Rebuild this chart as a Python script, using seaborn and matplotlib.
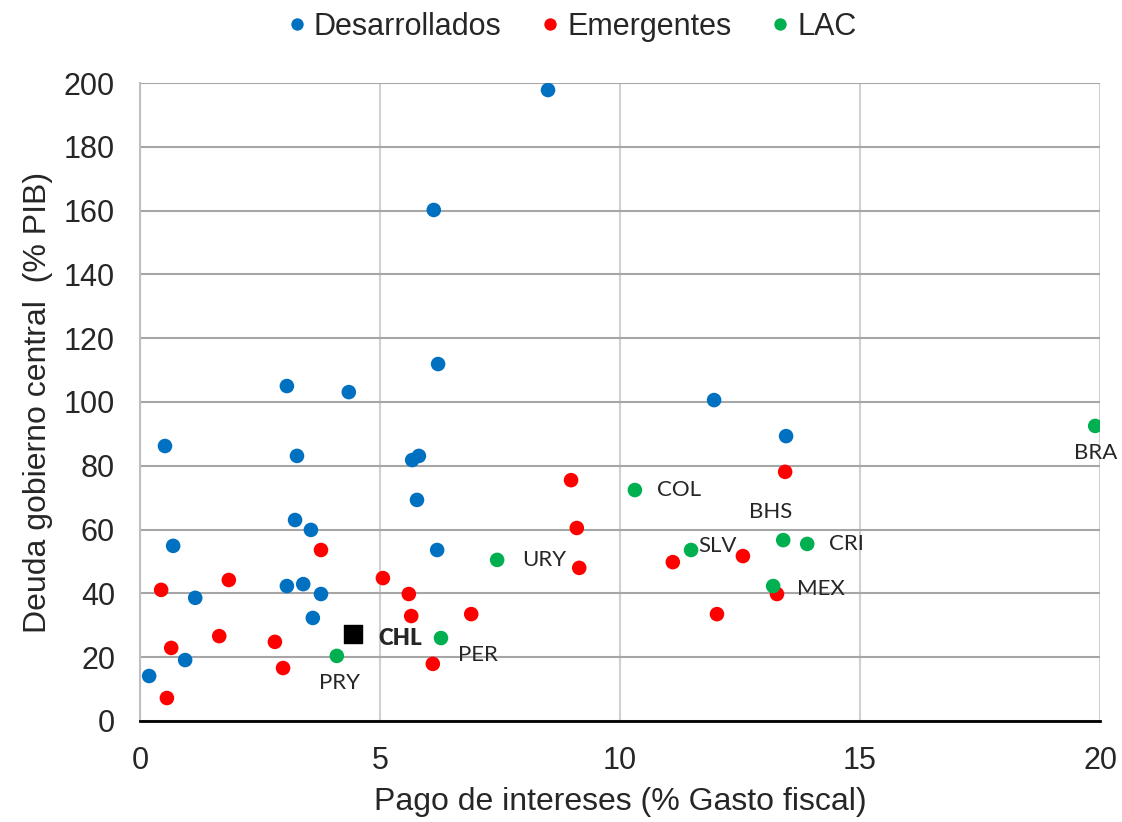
import matplotlib.pyplot as plt
import pandas as pd
import seaborn as sns

# Desarrollados
dev_x = [8.5, 6.12, 6.21, 3.06, 4.35, 11.96, 13.46, 0.52, 3.27, 5.67, 5.81, 5.77,
         3.23, 3.56, 0.69, 6.19, 3.06, 3.40, 3.77, 1.15, 3.60, 0.94, 0.19]
dev_y = [197.8, 160.2, 111.9, 105.0, 103.1, 100.6, 89.3, 86.2, 83.1, 81.8, 83.1, 69.3,
         63.0, 59.9, 54.9, 53.6, 42.3, 42.9, 39.8, 38.6, 32.3, 19.1, 14.1]

# Emergentes
emg_x = [13.44, 8.98, 9.10, 9.15, 11.1, 12.56, 12.02, 13.27, 3.77, 0.44, 1.85,
         5.06, 5.60, 5.65, 6.90, 1.65, 0.65, 2.81, 2.98, 0.56, 6.10]
emg_y = [78.1, 75.5, 60.5, 48.0, 49.8, 51.7, 33.5, 39.8, 53.6, 41.1, 44.2,
         44.8, 39.8, 32.9, 33.5, 26.6, 22.9, 24.8, 16.6, 7.2, 17.9]

# LAC
lac_names = ['BRA', 'COL', 'URY', 'SLV', 'BHS', 'CRI', 'MEX', 'PER', 'PRY']
lac_x = [19.9, 10.31, 7.44, 11.48, 13.4, 13.9, 13.19, 6.27, 4.10]
lac_y = [92.5, 72.4, 50.5, 53.6, 56.7, 55.5, 42.3, 26.0, 20.4]

chl_x, chl_y = 4.44, 27.3

# label offsets in points (dx, dy, ha, va)
label_pos = {
    'BRA': (0, -12, 'center', 'top'),
    'COL': (16, 0, 'left', 'center'),
    'URY': (18, 0, 'left', 'center'),
    'SLV': (5, 3, 'left', 'center'),
    'BHS': (-9, 13, 'center', 'bottom'),
    'CRI': (16, 0, 'left', 'center'),
    'MEX': (17, -2, 'left', 'center'),
    'PER': (12, -5, 'left', 'top'),
    'PRY': (2, -12, 'center', 'top'),
}

df = pd.DataFrame({
    'x': dev_x + emg_x + lac_x,
    'y': dev_y + emg_y + lac_y,
    'grupo': ['Desarrollados'] * len(dev_x) + ['Emergentes'] * len(emg_x) + ['LAC'] * len(lac_x),
})

sns.set_style('white')
plt.rcParams['font.family'] = ['Liberation Sans', 'DejaVu Sans']
label_font = ['Lato', 'DejaVu Sans']

fig = plt.figure(figsize=(11.22, 8.22), dpi=100)
ax = fig.add_axes([0.1248, 0.1229, 0.8556, 0.7761])

palette = {'Desarrollados': '#0070C0', 'Emergentes': '#FF0000', 'LAC': '#00B050'}
sns.scatterplot(data=df, x='x', y='y', hue='grupo', palette=palette, s=110,
                edgecolor='none', ax=ax, zorder=3)
ax.scatter([chl_x], [chl_y], marker='s', s=170, color='black', zorder=4)

for name, x, y in zip(lac_names, lac_x, lac_y):
    dx, dy, ha, va = label_pos[name]
    ax.annotate(name, (x, y), xytext=(dx, dy), textcoords='offset points',
                ha=ha, va=va, fontsize=16, family=label_font)
ax.annotate('CHL', (chl_x, chl_y), xytext=(18, -3), textcoords='offset points',
            ha='left', va='center', fontsize=16, fontweight='heavy',
            family=label_font)

ax.set_xlim(0, 20)
ax.set_ylim(0, 200)
ax.set_xticks(range(0, 21, 5))
ax.set_yticks(range(0, 201, 20))
ax.tick_params(axis='y', labelsize=22, length=0, pad=18)
ax.tick_params(axis='x', labelsize=22, length=0, pad=18)
ax.xaxis.grid(True, color='#d0d0d0', lw=1.5)
ax.yaxis.grid(True, color='#a6a6a6', lw=1.5)
ax.set_axisbelow(True)
for s in ['top', 'right']:
    ax.spines[s].set_visible(False)
ax.spines['left'].set_color('#bfbfbf')
ax.spines['left'].set_linewidth(1.5)
ax.spines['bottom'].set_color('black')
ax.spines['bottom'].set_linewidth(2)

ax.set_xlabel('Pago de intereses (% Gasto fiscal)', fontsize=23, labelpad=8)
ax.set_ylabel('Deuda gobierno central  (% PIB)', fontsize=23, labelpad=8)

handles, labels = ax.get_legend_handles_labels()
ax.legend(handles, labels, loc='upper center', bbox_to_anchor=(0.447, 1.155), ncol=3,
          frameon=False, fontsize=22, handlelength=1.0, handletextpad=0.05,
          columnspacing=1.1, markerscale=0.85)

fig.savefig('out.png', dpi=100)
